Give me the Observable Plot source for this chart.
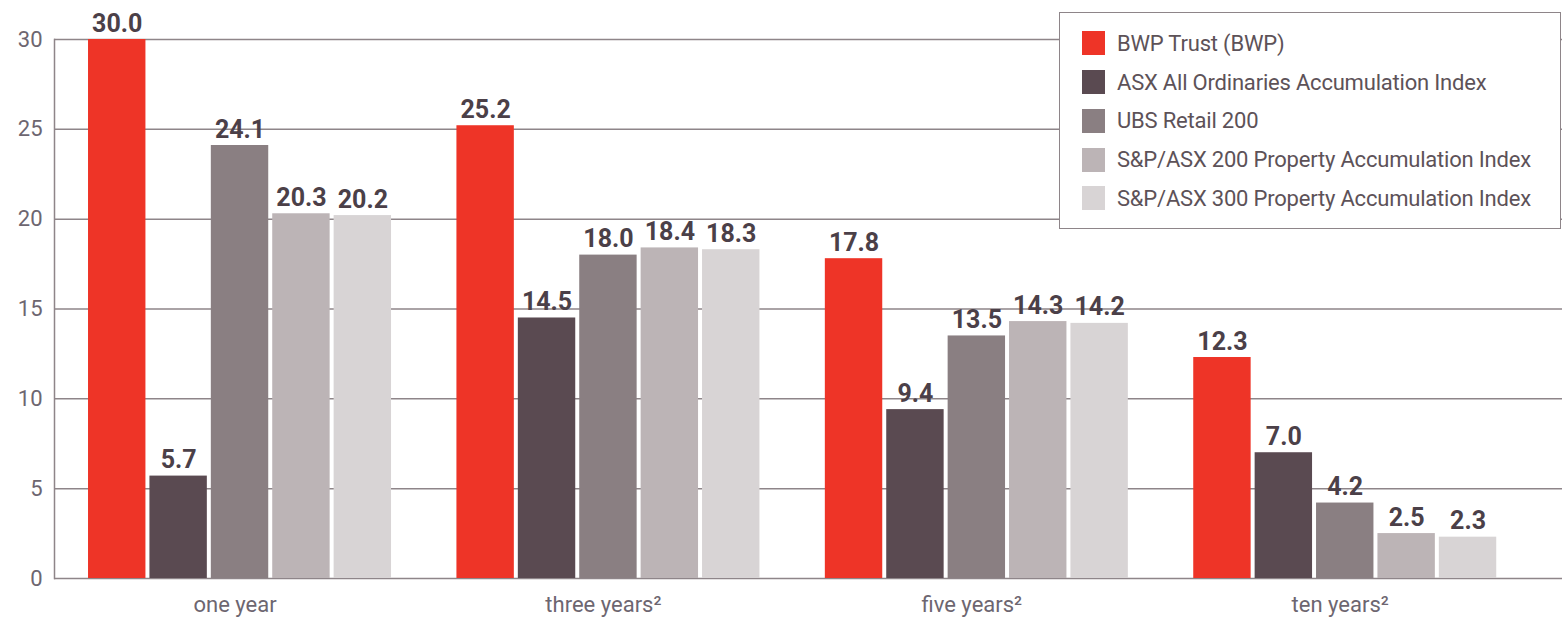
<!DOCTYPE html>
<html><head><meta charset="utf-8">
<script src="https://cdn.jsdelivr.net/npm/d3@7"></script>
<script src="https://cdn.jsdelivr.net/npm/@observablehq/plot@0.6"></script>
<style>
body{margin:0;background:#fff;font-family:Roboto,sans-serif;}
#wrap{position:relative;width:1562px;height:619px;}
#legend{position:absolute;left:1059px;top:12px;width:502px;height:217px;border:1.5px solid #8e8589;background:#fff;box-sizing:border-box;padding-top:11px;}
.row{display:flex;align-items:center;height:38.75px;}
.sw{width:23px;height:24px;margin-left:22px;margin-right:12px;flex:none;}
.lab{font-size:22px;color:#5d5258;white-space:nowrap;letter-spacing:-0.2px;}
</style></head><body>
<div id="wrap"><div id="chart"></div><div id="legend"></div></div>
<script>
const periods = ["one year", "three years²", "five years²", "ten years²"];
const series = ["BWP Trust (BWP)", "ASX All Ordinaries Accumulation Index", "UBS Retail 200", "S&P/ASX 200 Property Accumulation Index", "S&P/ASX 300 Property Accumulation Index"];
const colors = ["#ee3427", "#5a4a51", "#8a7f82", "#bcb4b6", "#d8d4d5"];
const bwpTrust = [30.0, 25.2, 17.8, 12.3];
const asxAllOrds = [5.7, 14.5, 9.4, 7.0];
const ubsRetail200 = [24.1, 18.0, 13.5, 4.2];
const asx200Property = [20.3, 18.4, 14.3, 2.5];
const asx300Property = [20.2, 18.3, 14.2, 2.3];
const yTicks = [0, 5, 10, 15, 20, 25, 30];

const seriesValues = [bwpTrust, asxAllOrds, ubsRetail200, asx200Property, asx300Property];
const rows = [];
const xDomain = [];
periods.forEach((p, i) => {
  series.forEach((s, j) => {
    const key = p + "|" + s;
    xDomain.push(key);
    rows.push({period: p, series: s, key, value: seriesValues[j][i]});
  });
  if (i < periods.length - 1) xDomain.push("gap" + i);
});
const tickKeys = periods.map(p => p + "|" + series[2]);

const chart = Plot.plot({
  width: 1562, height: 619,
  marginLeft: 54, marginRight: 0, marginTop: 39, marginBottom: 41,
  style: {fontFamily: "Roboto, sans-serif", background: "white", overflow: "visible"},
  x: {domain: xDomain, paddingInner: 0.065, paddingOuter: 0.8125, align: 0.341, round: false, axis: null},
  y: {domain: [0, 30], axis: null},
  color: {domain: series, range: colors},
  marks: [
    Plot.gridY(yTicks, {stroke: "#8e8589", strokeOpacity: 1, strokeWidth: 1.5}),
    Plot.frame({anchor: "left", stroke: "#8e8589", strokeWidth: 1.5}),
    Plot.axisY(yTicks, {tickSize: 0, tickPadding: 12, fontSize: 22, color: "#6d6670", label: null}),
    Plot.barY(rows, {x: "key", y: "value", fill: "series"}),
    Plot.text(rows, {x: "key", y: "value", text: d => d.value.toFixed(1), lineAnchor: "bottom", dy: -8, fontSize: 25, fontWeight: "bold", fill: "#4b4048"}),
    Plot.axisX(tickKeys, {tickSize: 0, tickPadding: 18, fontSize: 22, color: "#6d6670", label: null, dx: -5, tickFormat: k => k.split("|")[0]})
  ]
});
document.getElementById("chart").appendChild(chart);

const legend = document.getElementById("legend");
series.forEach((s, i) => {
  const row = document.createElement("div");
  row.className = "row";
  const sw = document.createElement("div");
  sw.className = "sw";
  sw.style.background = colors[i];
  const lab = document.createElement("div");
  lab.className = "lab";
  lab.textContent = s;
  row.appendChild(sw); row.appendChild(lab);
  legend.appendChild(row);
});
</script>
</body></html>
